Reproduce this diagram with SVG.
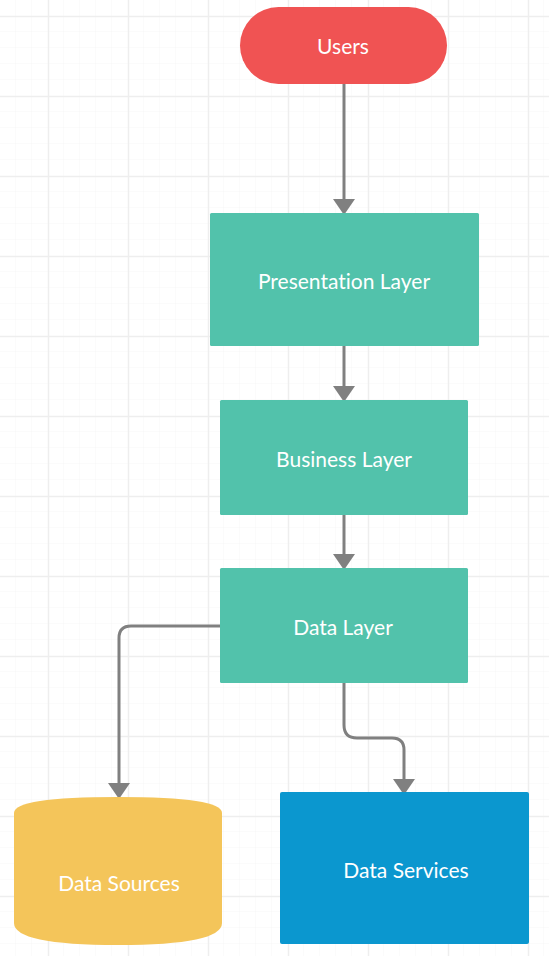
<svg xmlns="http://www.w3.org/2000/svg" width="549" height="956" viewBox="0 0 549 956">
<defs>
<pattern id="minor" width="16" height="16" patternUnits="userSpaceOnUse">
<path d="M16 0V16M0 16H16" fill="none" stroke="#f6f6f6" stroke-width="1"/>
</pattern>
<pattern id="major" x="48" y="16" width="80" height="80" patternUnits="userSpaceOnUse">
<path d="M0.5 0V80M0 0.5H80" fill="none" stroke="#eeeeee" stroke-width="1.5"/>
</pattern>
<style>
.lbl{font-family:Lato,"Liberation Sans",sans-serif;font-size:21px;fill:#ffffff;text-anchor:middle;dominant-baseline:central;font-variant-ligatures:none}
.edge{fill:none;stroke:#808080;stroke-width:3}
.head{fill:#808080}
.teal{fill:#52C2AB}
</style>
</defs>
<rect width="549" height="956" fill="#ffffff"/>
<rect width="549" height="956" fill="url(#minor)"/>
<rect width="549" height="956" fill="url(#major)"/>
<g id="connectors">
<path class="edge" d="M344 84V199"/>
<path class="head" d="M333 199H355L344 215Z"/>
<path class="edge" d="M344 346V386"/>
<path class="head" d="M333 386H355L344 402Z"/>
<path class="edge" d="M344 515V554"/>
<path class="head" d="M333 554H355L344 570Z"/>
<path class="edge" d="M220 626H131Q119 626 119 638V783"/>
<path class="head" d="M108 783H130L119 799Z"/>
<path class="edge" d="M344 683V725Q344 738 357 738H392Q404 738 404 750V779"/>
<path class="head" d="M393 779H415L404 795Z"/>
</g>
<g id="users">
<rect x="240" y="7" width="207" height="77" rx="38.5" fill="#F05353"/>
<text class="lbl" x="343" y="45">Users</text>
</g>
<g id="presentation">
<rect class="teal" x="210" y="213" width="269" height="133" rx="1.5"/>
<text class="lbl" x="344" y="280">Presentation Layer</text>
</g>
<g id="business">
<rect class="teal" x="220" y="400" width="248" height="115" rx="1.5"/>
<text class="lbl" x="344" y="458">Business Layer</text>
</g>
<g id="data">
<rect class="teal" x="220" y="568" width="248" height="115" rx="1.5"/>
<text class="lbl" x="343" y="626">Data Layer</text>
</g>
<g id="datasources">
<path d="M14 813Q14 797 118 797Q222 797 222 813V923Q222 945 118 945Q14 945 14 923Z" fill="#F4C55A"/>
<text class="lbl" x="119" y="882">Data Sources</text>
</g>
<g id="dataservices">
<rect x="280" y="792" width="249" height="152" rx="2" fill="#0B97CF"/>
<text class="lbl" x="406" y="869">Data Services</text>
</g>
</svg>
